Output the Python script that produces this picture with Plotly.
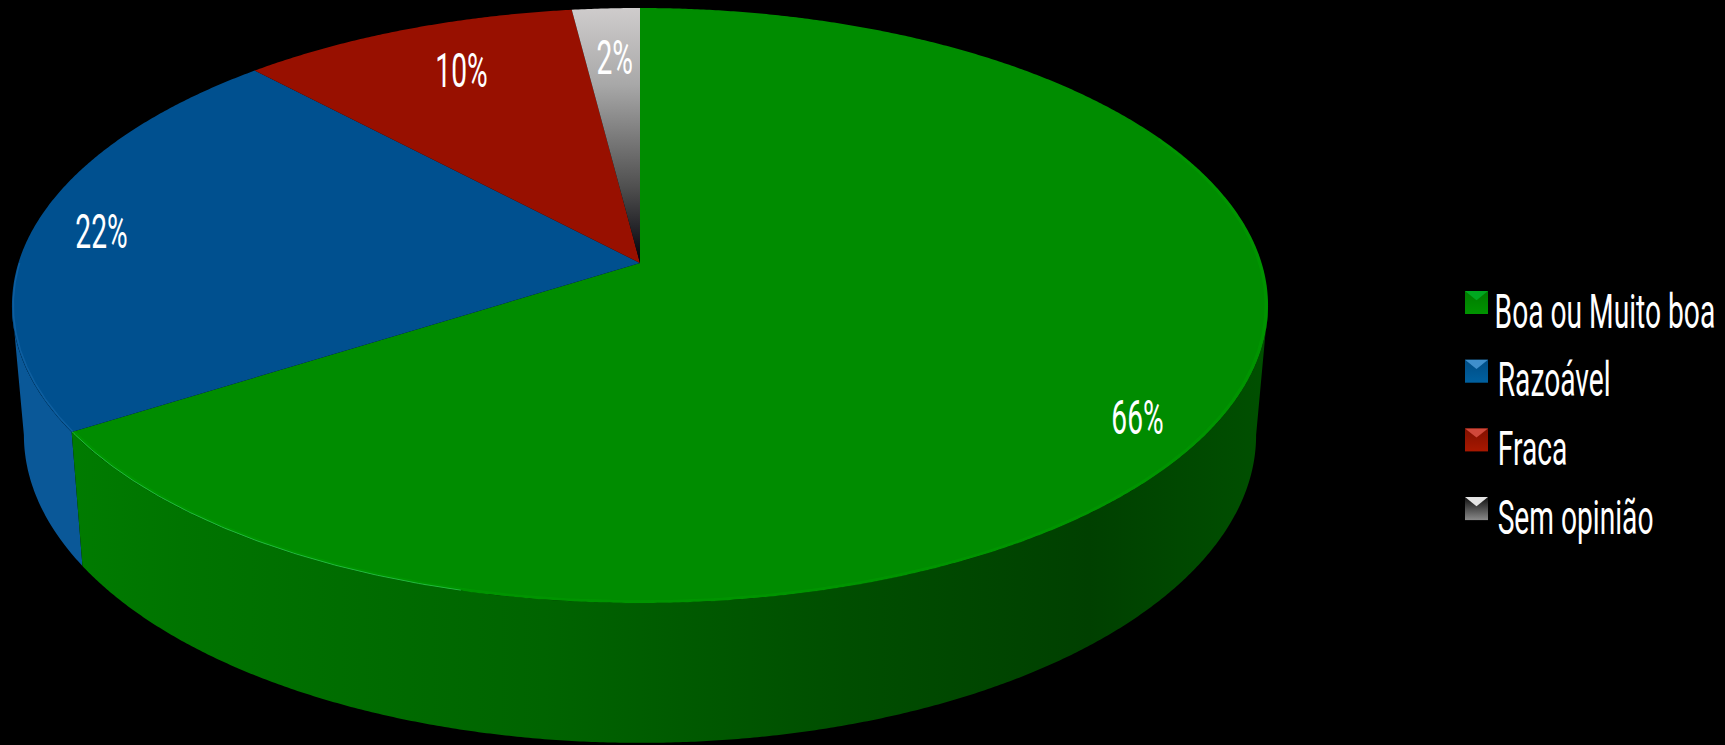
import numpy as np
import plotly.graph_objects as go

# Survey shares, clockwise from twelve o'clock
categories = ["Boa ou Muito boa", "Razoável", "Fraca", "Sem opinião"]
shares = [66, 22, 10, 2]
share_labels = ["66%", "22%", "10%", "2%"]

WIDTH, HEIGHT = 1725, 745
TEXT_FONT = "Roboto"
TEXT_SIZE = 49
CONDENSE = 0.575

# Pie disc seen in perspective
CX, CY = 640.0, 263.0
RX, RY, TILT = 621.6, 291.4, 1 / 7
FLOOR_X_SCALE, FLOOR_Y_SCALE, FLOOR_DROP = 0.981, 1.035, 128.0


def top_face(theta, radius=1.0):
    sx, sy = radius * np.sin(theta), -radius * np.cos(theta)
    w = 1 - TILT * sy
    return CX + RX * sx / w, CY + RY * sy / w


def bottom_face(theta):
    x, y = top_face(theta)
    return CX + (x - CX) * FLOOR_X_SCALE, CY + FLOOR_DROP + (y - CY) * FLOOR_Y_SCALE


def arc(start, stop):
    n = max(2, int(abs(stop - start) * 180))
    return np.linspace(start, stop, n)


fractions = np.cumsum([0] + shares) / sum(shares)
edges = fractions * 2 * np.pi

# Part of the rim that faces the viewer, between the two silhouette tangents
FRONT_START = np.arccos(-TILT)
FRONT_STOP = 2 * np.pi - FRONT_START

side_fills = [
    dict(fillgradient=dict(type="horizontal", start=60, stop=1270, colorscale=[
        [0.0, "#007c00"], [0.1, "#007400"], [0.4, "#006400"],
        [0.65, "#004e00"], [0.85, "#004000"], [1.0, "#005000"]])),
    dict(fillcolor="#0a5898"),
    dict(fillcolor="#6e0c00"),
    dict(fillcolor="#444444"),
]
top_fills = [
    dict(fillcolor="#008c00"),
    dict(fillcolor="#00508f"),
    dict(fillcolor="#981000"),
    dict(fillgradient=dict(type="vertical", colorscale=[
        [0.0, "#000008"], [0.3, "#505050"], [0.7, "#a8a8a8"], [1.0, "#cfcccc"]])),
]
# Legend key tones: top facet, body at its lower edge, body at its upper edge
swatch_tones = [
    ("#00a820", "#007a00", "#009400"),
    ("#3f8fcc", "#004c84", "#00609f"),
    ("#d0483a", "#801000", "#a81800"),
    ("#e4e4e4", "#101010", "#8a8a8a"),
]

fig = go.Figure()

# Wall of the disc: only the arc of each slice that faces the viewer
for i in [2, 3, 1, 0]:
    start, stop = max(edges[i], FRONT_START), min(edges[i + 1], FRONT_STOP)
    if stop <= start:
        continue
    t = arc(start, stop)
    tx, ty = top_face(t)
    bx, by = bottom_face(t[::-1])
    fig.add_trace(go.Scatter(
        x=np.r_[tx, bx], y=np.r_[ty, by], mode="none", fill="toself",
        hoverinfo="skip", showlegend=False, **side_fills[i]))

# Upper surface slices
for i, name in enumerate(categories):
    t = arc(edges[i], edges[i + 1])
    tx, ty = top_face(t)
    fig.add_trace(go.Scatter(
        x=np.r_[CX, tx, CX], y=np.r_[CY, ty, CY], mode="none", fill="toself",
        name=name, hoverinfo="name", showlegend=False, **top_fills[i]))

# Soft bevel along the front rim of the disc
t = arc(0.35 * np.pi, edges[1])
rx_, ry_ = top_face(t, 0.997)
fig.add_trace(go.Scatter(x=rx_, y=ry_, mode="lines", hoverinfo="skip", showlegend=False,
                         line=dict(color="rgba(0,170,0,0.3)", width=3)))
t = arc(1.08 * np.pi, edges[1])
rx_, ry_ = top_face(t, 0.999)
fig.add_trace(go.Scatter(x=rx_, y=ry_, mode="lines", hoverinfo="skip", showlegend=False,
                         line=dict(color="rgba(50,200,90,0.7)", width=1)))
t = arc(edges[1], 1.5 * np.pi)
rx_, ry_ = top_face(t, 0.998)
fig.add_trace(go.Scatter(x=rx_, y=ry_, mode="lines", hoverinfo="skip", showlegend=False,
                         line=dict(color="rgba(40,120,190,0.35)", width=1.5)))

# Bevelled legend keys
KEY_X, KEY_Y, KEY_SIZE, KEY_PITCH = 1465.0, 291.0, 23.0, 68.7
for i, (light, low, high) in enumerate(swatch_tones):
    y0 = KEY_Y + i * KEY_PITCH
    x0 = KEY_X
    s = KEY_SIZE
    inset = s * 0.5
    fig.add_trace(go.Scatter(
        x=[x0, x0 + s, x0 + s, x0, x0], y=[y0, y0, y0 + s, y0 + s, y0],
        mode="none", fill="toself", hoverinfo="skip", showlegend=False,
        fillgradient=dict(type="vertical", colorscale=[[0, high], [1, low]])))
    fig.add_trace(go.Scatter(
        x=[x0, x0 + s, x0 + s - inset], y=[y0, y0, y0 + inset * 0.8],
        mode="none", fill="toself", fillcolor=light, hoverinfo="skip", showlegend=False))

# Slice labels, centred on their anchors
label_anchor = [(1137, 417), (101, 231), (461, 70), (614, 57)]
for text, (x, y) in zip(share_labels, label_anchor):
    fig.add_annotation(x=x, y=y, text=text, showarrow=False, xanchor="center", yanchor="middle",
                       font=dict(family=TEXT_FONT, size=TEXT_SIZE, color="white"))

# Legend captions
legend_centres = [1605, 1554, 1532, 1575]
for i, (name, x) in enumerate(zip(categories, legend_centres)):
    fig.add_annotation(x=x, y=KEY_Y + 20 + i * KEY_PITCH, text=name, showarrow=False,
                       xanchor="center", yanchor="middle",
                       font=dict(family=TEXT_FONT, size=TEXT_SIZE, color="white"))

fig.update_xaxes(range=[0, WIDTH], visible=False, fixedrange=True)
fig.update_yaxes(range=[HEIGHT, 0], visible=False, fixedrange=True)
fig.update_layout(width=WIDTH, height=HEIGHT, margin=dict(l=0, r=0, t=0, b=0),
                  paper_bgcolor="black", plot_bgcolor="black", showlegend=False)

# Narrow the text horizontally about its own centre for a tall condensed look
narrow_text = """
document.getElementById('{plot_id}').querySelectorAll('.annotation-text').forEach(function (el) {
    var box = el.getBBox();
    var mid = box.x + box.width / 2;
    var prior = el.getAttribute('transform') || '';
    el.setAttribute('transform',
        prior + ' translate(' + mid + ',0) scale(%s,1) translate(' + (-mid) + ',0)');
});
""" % CONDENSE

fig.write_html("out.html", post_script=narrow_text, config=dict(displayModeBar=False))
